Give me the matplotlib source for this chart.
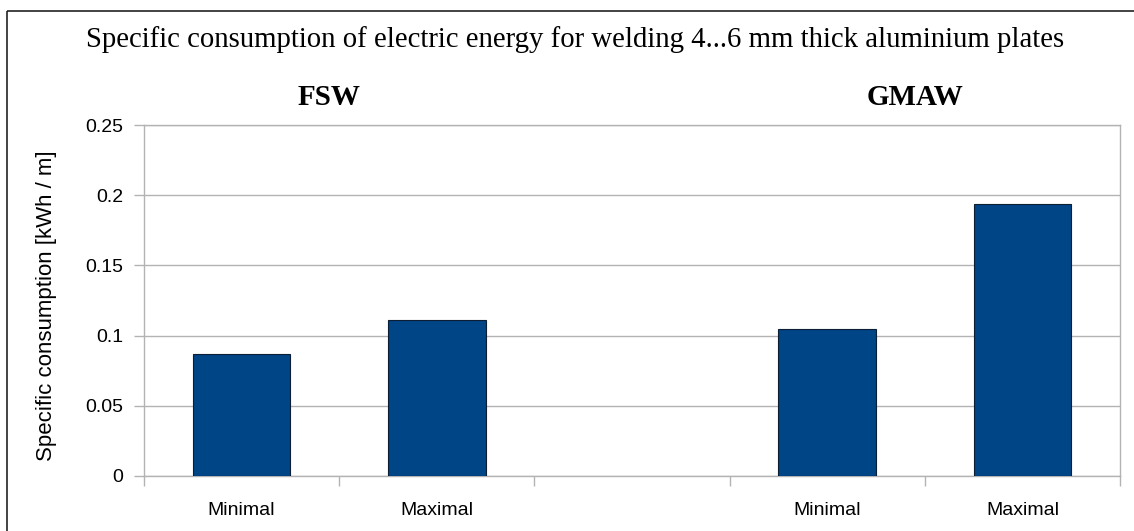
"""
Specific consumption of electric energy, FSW vs GMAW
"""
import numpy as np
import matplotlib
matplotlib.use('Agg')
import matplotlib.pyplot as plt
from matplotlib.lines import Line2D

categories = ['Minimal', 'Maximal', '', 'Minimal', 'Maximal']
values = [0.087, 0.111, np.nan, 0.105, 0.194]
groups = ['FSW', 'GMAW']
yticks = [0, 0.05, 0.1, 0.15, 0.2, 0.25]
ytick_labels = ['0', '0.05', '0.1', '0.15', '0.2', '0.25']

W, H = 1134, 531
grey = '#b3b3b3'


def main():
    fig = plt.figure(figsize=(W / 100, H / 100), dpi=100, facecolor='white')
    ax = fig.add_axes([144 / W, 1 - 476 / H, (1120 - 144) / W, (476 - 125) / H])

    x = np.arange(len(categories))
    ax.bar(x, values, width=0.5, color='#004586', edgecolor='#0b1e33', linewidth=0.8, zorder=3)

    ax.set_xlim(-0.5, len(categories) - 0.5)
    ax.set_ylim(0, 0.25)
    ax.set_yticks(yticks)
    ax.set_yticklabels(ytick_labels, fontfamily='Liberation Sans', fontsize=14)
    ax.set_xticks(x)
    ax.set_xticklabels(categories, fontfamily='Liberation Sans', fontsize=14)
    ax.set_xticks(np.arange(len(categories) + 1) - 0.5, minor=True)
    ax.tick_params(axis='x', which='major', length=0, pad=19)
    ax.tick_params(axis='x', which='minor', length=7, color=grey, width=1)
    ax.tick_params(axis='y', length=7.2, color=grey, width=1, pad=8)

    ax.grid(axis='y', color=grey, linewidth=1, zorder=0)
    for s in ax.spines.values():
        s.set_color(grey)
        s.set_linewidth(1)

    # y label
    fig.text(47 / W, 1 - 306 / H, 'Specific consumption [kWh / m]', rotation=90,
             ha='center', va='center', fontfamily='Liberation Sans', fontsize=16)

    fig.text(575 / W, 1 - 47 / H,
             'Specific consumption of electric energy for welding 4...6 mm thick aluminium plates',
             ha='center', va='baseline', fontfamily='Liberation Serif', fontsize=20.7)
    fig.text(329 / W, 1 - 105 / H, groups[0], ha='center', va='baseline',
             fontfamily='Liberation Serif', fontweight='bold', fontsize=21)
    fig.text(915 / W, 1 - 105 / H, groups[1], ha='center', va='baseline',
             fontfamily='Liberation Serif', fontweight='bold', fontsize=21)

    # frame: only top and left edges fall inside the picture
    fig.lines.append(Line2D([7 / W, 1.0], [1 - 11 / H, 1 - 11 / H], transform=fig.transFigure,
                            color='#222222', linewidth=1.2, solid_capstyle='butt'))
    fig.lines.append(Line2D([7 / W, 7 / W], [0, 1 - 11 / H], transform=fig.transFigure,
                            color='#222222', linewidth=1.2, solid_capstyle='butt'))

    fig.savefig('out.png', dpi=100, facecolor='white')
    plt.close(fig)


if __name__ == "__main__":
    main()
